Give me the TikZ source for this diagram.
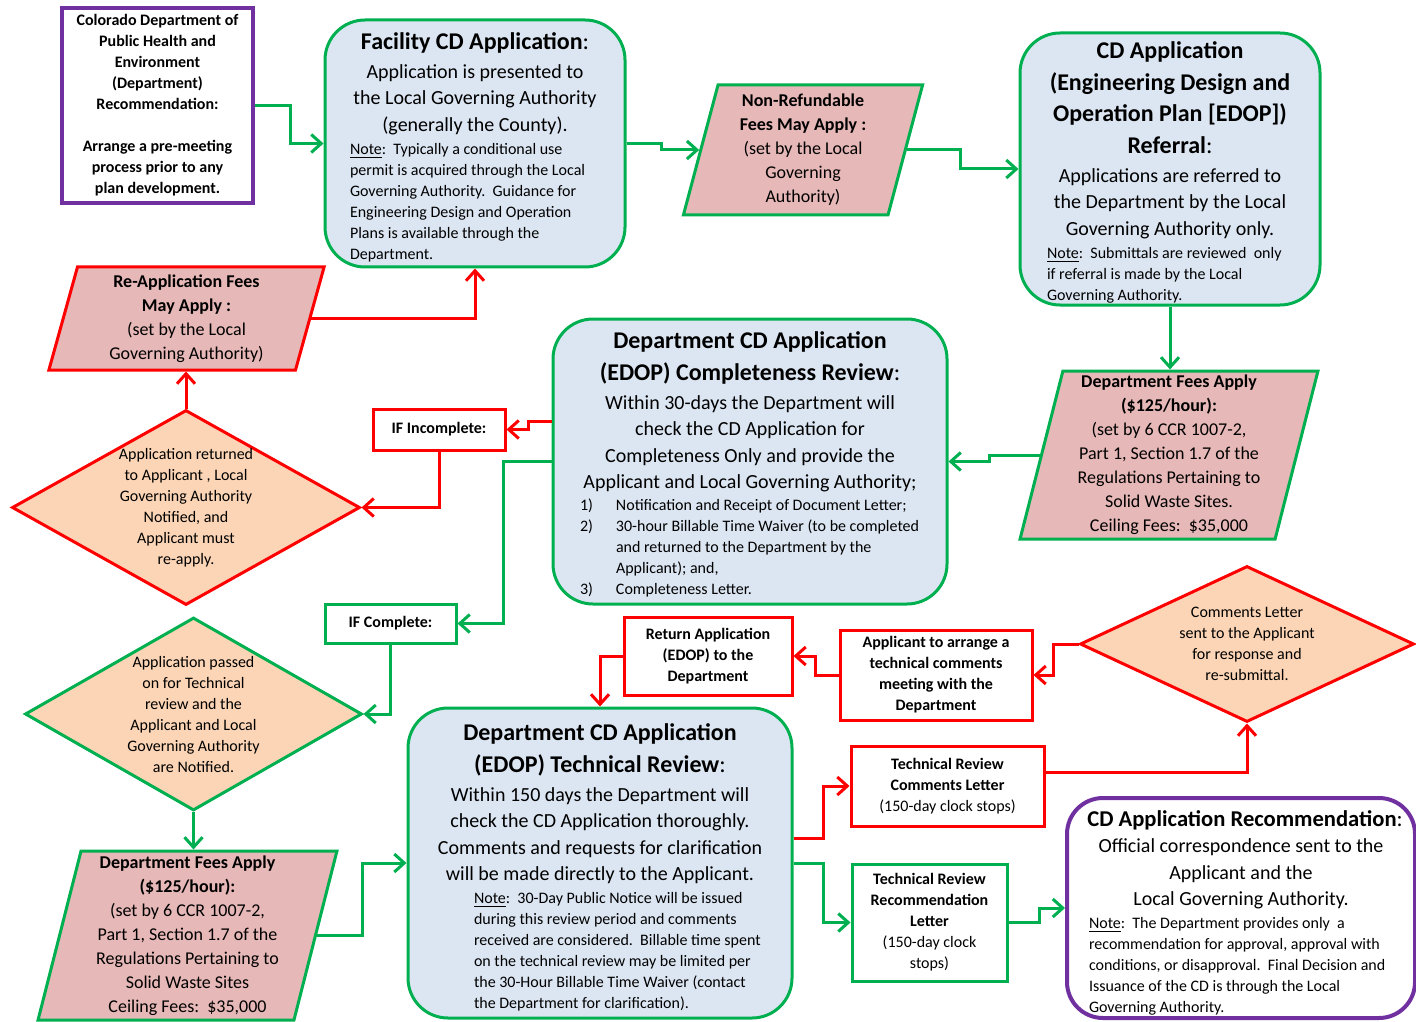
\documentclass[tikz,border=0pt]{standalone}
\usepackage{fontspec}
\setmainfont{Carlito}
\usetikzlibrary{arrows.meta,shapes.geometric}
\definecolor{lnGreen}{RGB}{0,176,80}
\definecolor{lnRed}{RGB}{255,0,0}
\definecolor{lnPurple}{RGB}{112,48,160}
\definecolor{fillBlue}{RGB}{220,230,242}
\definecolor{fillPink}{RGB}{230,184,183}
\definecolor{fillPeach}{RGB}{251,213,181}
\newcommand{\fontspaces}{\spaceskip=0pt\xspaceskip=0pt\relax}
\newcommand{\ttlfont}{\fontsize{12}{15.75}\selectfont\bfseries\fontspaces}
\newcommand{\bodyfont}{\fontsize{10}{13.25}\selectfont\fontspaces}
\newcommand{\notefont}{\fontsize{8}{10.5}\selectfont\fontspaces}
\newcommand{\feefont}{\fontsize{9}{12}\selectfont}
\newcommand{\boxtitle}[1]{{\centering\ttlfont #1\mdseries:\par}\vspace{1.25pt}}
\newcommand{\lowertext}[1]{\par\vspace{-#1}\nointerlineskip\null}
\begin{document}
\begin{tikzpicture}[x=0.5pt,y=-0.5pt,
    procbox/.style={draw=lnGreen,fill=fillBlue,rounded corners=20pt,line width=1.5pt,inner sep=0pt},
    feebox/.style={trapezium,trapezium stretches=true,trapezium left angle=77,trapezium right angle=103,
      fill=fillPink,line width=1.5pt,inner sep=0pt,align=center,font=\feefont},
    choice/.style={diamond,fill=fillPeach,line width=1.5pt,inner sep=0pt,align=center,font=\notefont},
    stepbox/.style={rectangle,fill=white,line width=1.5pt,inner sep=2pt,align=center,font=\notefont},
    arr/.style={line width=1.5pt,-{Straight Barb[length=5pt,width=9pt]}}]
  \useasboundingbox (0,0) rectangle (1416,1021);

  \node[stepbox,draw=lnPurple,line width=2pt,minimum width=95.5pt,minimum height=97.5pt,font=\notefont\bfseries] (cdphe) at (157.5,105.5)
    {Colorado Department of\\Public Health and\\Environment\\(Department)\\Recommendation:\\[10.5pt]Arrange a pre-meeting\\process prior to any\\plan development.};
  \node[procbox,minimum width=150pt,minimum height=123.5pt,text width=125pt] (fac) at (475,143.5)
    {\boxtitle{Facility CD Application}
     {\centering\bodyfont Application is presented to\\the Local Governing Authority\\(generally the County).\par}\vspace{1pt}
     {\raggedright\notefont\underline{Note}:\ \ Typically a conditional use\\permit is acquired through the Local\\Governing Authority.\ \ Guidance for\\Engineering Design and Operation\\Plans is available through the\\Department.\par}\lowertext{3.5pt}};
  \node[feebox,draw=lnGreen,minimum width=120pt,minimum height=65pt] (nonref) at (803,150)
    {\textbf{Non-Refundable}\\\textbf{Fees May Apply :}\\(set by the Local\\Governing\\Authority)};
  \node[procbox,minimum width=150pt,minimum height=136pt,text width=123pt] (ref) at (1170,169)
    {\boxtitle{CD Application\\(Engineering Design and\\Operation Plan [EDOP])\\Referral}
     {\centering\bodyfont Applications are referred to\\the Department by the Local\\Governing Authority only.\par}\vspace{1pt}
     {\raggedright\notefont\underline{Note}:\ \ Submittals are reviewed\ \ only\\if referral is made by the Local\\Governing Authority.\par}\lowertext{3.5pt}};
  \node[feebox,draw=lnRed,minimum width=138.5pt,minimum height=51.5pt] (reapp) at (186.5,318.5)
    {\textbf{Re-Application Fees}\\\textbf{May Apply :}\\(set by the Local\\Governing Authority)};
  \node[procbox,minimum width=197pt,minimum height=142.5pt,text width=180pt] (comp) at (750,461.5)
    {\boxtitle{Department CD Application\\(EDOP) Completeness Review}
     {\centering\bodyfont Within 30-days the Department will\\check the CD Application for\\Completeness Only and provide the\\Applicant and Local Governing Authority;\par}\vspace{1pt}
     {\notefont\noindent\hspace*{5pt}\begin{tabular}{@{}p{18pt}@{}l@{}}
       1) & Notification and Receipt of Document Letter;\\
       2) & 30-hour Billable Time Waiver (to be completed\\
          & and returned to the Department by the\\
          & Applicant); and,\\
       3) & Completeness Letter.
     \end{tabular}\par}\lowertext{5pt}};
  \node[feebox,draw=lnGreen,minimum width=149pt,minimum height=84pt] (deptR) at (1169,455)
    {\textbf{Department Fees Apply}\\\textbf{(\$125/hour):}\\(set by 6 CCR 1007-2,\\Part 1, Section 1.7 of the\\Regulations Pertaining to\\Solid Waste Sites.\\Ceiling Fees:\ \ \$35,000};
  \node[stepbox,draw=lnRed,minimum width=66pt,minimum height=20.5pt,font=\notefont\bfseries] (inc) at (439,429.5) {IF Incomplete:};
  \node[choice,draw=lnRed,shape aspect=1.78,minimum width=174pt,minimum height=97.5pt] (redd) at (186,507.5)
    {Application returned\\to Applicant , Local\\Governing Authority\\Notified, and\\Applicant must\\re-apply.};
  \node[stepbox,draw=lnGreen,minimum width=65.5pt,minimum height=19.5pt,font=\notefont\bfseries] (cpl) at (390.5,623.5) {IF Complete:};
  \node[choice,draw=lnGreen,shape aspect=1.75,minimum width=168.5pt,minimum height=96.5pt] (greend) at (193.5,714)
    {Application passed\\on for Technical\\review and the\\Applicant and Local\\Governing Authority\\are Notified.};
  \node[feebox,draw=lnGreen,minimum width=149.5pt,minimum height=84.5pt] (deptL) at (187.5,935.5)
    {\textbf{Department Fees Apply}\\\textbf{(\$125/hour):}\\(set by 6 CCR 1007-2,\\Part 1, Section 1.7 of the\\Regulations Pertaining to\\Solid Waste Sites\\Ceiling Fees:\ \ \$35,000};
  \node[stepbox,draw=lnRed,minimum width=84pt,minimum height=39pt,font=\notefont\bfseries] (ret) at (708,656)
    {Return Application\\(EDOP) to the\\Department};
  \node[stepbox,draw=lnRed,minimum width=96pt,minimum height=45pt,font=\notefont\bfseries] (arrg) at (936,675)
    {Applicant to arrange a\\technical comments\\meeting with the\\Department};
  \node[choice,draw=lnRed,shape aspect=2.14,minimum width=167pt,minimum height=78pt] (comd) at (1247,644)
    {Comments Letter\\sent to the Applicant\\for response and\\re-submittal.};
  \node[procbox,minimum width=192pt,minimum height=155pt,text width=170pt] (tech) at (600,863)
    {\boxtitle{Department CD Application\\(EDOP) Technical Review}
     {\centering\bodyfont Within 150 days the Department will\\check the CD Application thoroughly.\\Comments and requests for clarification\\will be made directly to the Applicant.\par}\vspace{1pt}
     {\raggedright\notefont\leftskip=22pt\underline{Note}:\ \ 30-Day Public Notice will be issued\\during this review period and comments\\received are considered.\ \ Billable time spent\\on the technical review may be limited per\\the 30-Hour Billable Time Waiver (contact\\the Department for clarification).\par}\lowertext{4.5pt}};
  \node[stepbox,draw=lnRed,minimum width=96.5pt,minimum height=40pt] (trc) at (947.5,786)
    {\textbf{Technical Review}\\\textbf{Comments Letter}\\(150-day clock stops)};
  \node[stepbox,draw=lnGreen,minimum width=77.5pt,minimum height=58.5pt] (trr) at (929.5,922.5)
    {\textbf{Technical Review}\\\textbf{Recommendation}\\\textbf{Letter}\\(150-day clock\\stops)};
  \node[draw=lnPurple,fill=white,rounded corners=18pt,line width=2pt,inner sep=0pt,minimum width=174pt,minimum height=110pt,text width=152pt] (rec) at (1241,908)
    {{\noindent\makebox[\linewidth]{\hspace*{4pt}\fontsize{11.3}{13.5}\selectfont\bfseries\fontspaces CD Application Recommendation\mdseries:}\par}
     {\centering\bodyfont Official correspondence sent to the\\Applicant and the\\Local Governing Authority.\par}\vspace{1pt}
     {\raggedright\notefont\underline{Note}:\ \ The Department provides only\ \ a\\recommendation for approval, approval with\\conditions, or disapproval.\ \ Final Decision and\\Issuance of the CD is through the Local\\Governing Authority.\par}\lowertext{5pt}};

  \draw[arr,lnGreen] (cdphe.east) -- ++(35,0) |- (fac.west);
  \draw[arr,lnGreen] (fac.east) -- ++(35,0) |- (nonref.left side);
  \draw[arr,lnGreen] (nonref.right side) -- ++(54,0) |- (ref.west);
  \draw[arr,lnGreen] (ref.south) -- (ref.south |- deptR.north);
  \draw[arr,lnGreen] (deptR.left side) -- ++(-50,0) |- (comp.east);
  \draw[arr,lnRed] ([yshift=20pt]comp.west) -- ++(-23,0) |- (inc.east);
  \draw[arr,lnRed] (inc.south) |- (redd.east);
  \draw[arr,lnRed] (redd.north) -- (redd.north |- reapp.south);
  \draw[arr,lnRed] (reapp.right side) -| (fac.south);
  \draw[arr,lnGreen] (comp.west) -- ++(-48,0) |- (cpl.east);
  \draw[arr,lnGreen] (cpl.south) |- (greend.east);
  \draw[arr,lnGreen] (greend.south) -- (greend.south |- deptL.north);
  \draw[arr,lnGreen] (deptL.right side) -- ++(45,0) |- (tech.west);
  \draw[arr,lnRed] ([yshift=12.5pt]tech.east) -- ++(30,0) |- (trc.west);
  \draw[arr,lnRed] ([yshift=7pt]trc.east) -| (comd.south);
  \draw[arr,lnRed] (comd.west) -- ++(-25,0) |- (arrg.east);
  \draw[arr,lnRed] (arrg.west) -- ++(-23,0) |- (ret.east);
  \draw[arr,lnRed] (ret.west) -| (tech.north);
  \draw[arr,lnGreen] (tech.east) -- ++(30,0) |- (trr.west);
  \draw[arr,lnGreen] (trr.east) -- ++(31,0) |- (rec.west);
\end{tikzpicture}
\end{document}
